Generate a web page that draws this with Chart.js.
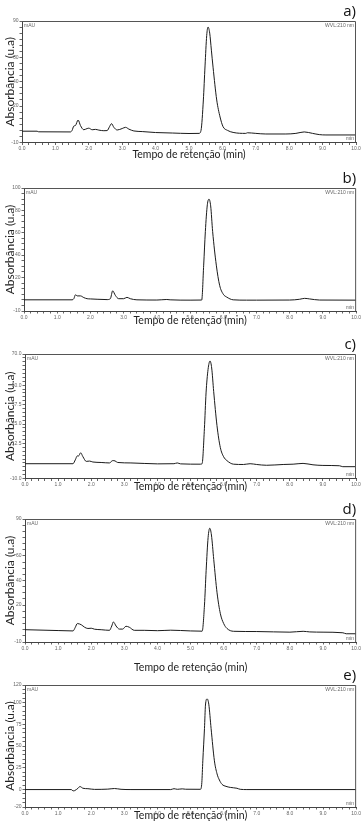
<!DOCTYPE html>
<html>
<head>
<meta charset="utf-8">
<script src="https://cdn.jsdelivr.net/npm/chart.js@4.4.1/dist/chart.umd.min.js"></script>
<style>
  body { margin: 0; background: #fff; }
  #wrap { position: relative; width: 362px; height: 828px; overflow: hidden; }
  #wrap canvas { position: absolute; left: 0; }
</style>
</head>
<body>
<div id="wrap"></div>
<script>
"use strict";

// ========== DATA ========== //
const xMajor = [0, 1, 2, 3, 4, 5, 6, 7, 8, 9, 10];

// a)
const timeA = [0, 0.45, 0.5, 1.45, 1.5, 1.55, 1.6, 1.68, 1.75, 1.85, 1.95, 2.0, 2.1, 2.2, 2.3, 2.45, 2.55, 2.62, 2.68, 2.75, 2.85, 3.0, 3.1, 3.2, 3.35, 3.6, 4.0, 4.5, 5.0, 5.3, 5.36, 5.43, 5.48, 5.53, 5.57, 5.62, 5.67, 5.72, 5.83, 5.93, 6.02, 6.15, 6.32, 6.7, 6.75, 7.0, 7.3, 7.9, 8.2, 8.45, 8.7, 8.9, 9.1, 10.0];
const absA  = [-0.7, -0.7, -1.2, -1.3, 0, 3.5, 4, 8.5, 4, 0.5, 1.5, 1.8, 0.5, 0.8, 0.2, -0.3, -0.2, 3, 5.5, 2.5, 0.3, 1.5, 2.5, 1, -0.5, -1, -1.8, -2.2, -2.6, -2.5, 0, 25, 53, 78, 85, 80, 66, 52, 25, 11, 3, 0, -1.7, -2.5, -2, -2.5, -3, -3, -2.5, -1.3, -2.5, -3.5, -3.8, -3.8];
const yLabelsA = [-10, 20, 40, 60, 90];

// b)
const timeB = [0, 1.45, 1.5, 1.55, 1.6, 1.7, 1.8, 1.9, 2.0, 2.2, 2.5, 2.6, 2.67, 2.75, 2.85, 3.0, 3.1, 3.2, 3.4, 4.0, 4.3, 4.4, 5.0, 5.35, 5.41, 5.46, 5.52, 5.57, 5.62, 5.68, 5.79, 5.89, 6.0, 6.1, 6.3, 6.7, 7.0, 8.0, 8.3, 8.45, 8.6, 8.9, 10.0];
const absB  = [0, 0, 1, 4.5, 3.5, 3.5, 2, 1, 0.8, 0.5, 0.2, 1, 8, 4, 1, 1, 2.2, 1, 0, -0.2, 0.3, 0, -0.3, -0.2, 31, 61, 85, 90, 84, 61, 31, 13, 5, 2.5, 0, -0.3, -0.3, -0.2, 0.5, 1.3, 0.8, -0.2, -0.3];
const yLabelsB = [-10, 20, 40, 60, 80, 100];

// c)
const timeC = [0, 1.45, 1.52, 1.58, 1.62, 1.68, 1.75, 1.85, 1.95, 2.05, 2.3, 2.55, 2.65, 2.72, 2.8, 3.2, 4.0, 4.5, 4.6, 4.7, 5.3, 5.35, 5.42, 5.47, 5.53, 5.59, 5.64, 5.7, 5.8, 5.9, 6.0, 6.1, 6.3, 6.6, 6.8, 7.0, 7.3, 7.8, 8.1, 8.4, 8.7, 9.0, 9.5, 9.6, 10.0];
const absC  = [-0.5, -0.5, 2, 4.5, 4.5, 6.5, 4, 1, 1.2, 0.6, 0.3, 0, 1.5, 1.3, 0.3, 0, -0.6, -0.5, 0, -0.6, -0.8, -0.5, 22, 45, 60, 65.5, 61, 46, 24, 10, 4, 1.5, -0.8, -1, -0.5, -1, -1.5, -1, -0.8, -0.3, -1.2, -1.6, -1.8, -2.4, -2.4];
const yLabelsC = [-10, 12.5, 25, 37.5, 50, 70];

// d)
const timeD = [0, 1.0, 1.45, 1.52, 1.58, 1.7, 1.8, 1.9, 2.0, 2.1, 2.3, 2.55, 2.62, 2.67, 2.75, 2.85, 2.95, 3.05, 3.15, 3.3, 3.6, 4.0, 4.4, 5.0, 5.35, 5.42, 5.47, 5.53, 5.58, 5.63, 5.7, 5.8, 5.9, 6.0, 6.1, 6.3, 7.0, 8.0, 8.4, 8.6, 9.0, 9.6, 9.7, 10.0];
const absD  = [0, -0.7, -1, 2, 5, 4, 2, 1, 1.2, 0.4, 0, -0.5, 3, 6.3, 3, 0.5, 0.5, 2.8, 2, -0.5, -0.5, -0.8, -0.4, -1, -1.2, 20, 48, 75, 82.5, 77, 57, 30, 13, 5, 1, -1.3, -1.5, -2, -1.3, -1.8, -2, -2.5, -3.3, -3.3];
const yLabelsD = [-10, 20, 40, 60, 90];

// e)
const timeE = [0, 1.4, 1.45, 1.5, 1.6, 1.66, 1.75, 1.9, 2.1, 2.5, 2.7, 2.9, 3.2, 4.4, 4.5, 4.6, 4.75, 4.85, 5.3, 5.34, 5.37, 5.42, 5.45, 5.5, 5.55, 5.62, 5.72, 5.8, 5.87, 5.95, 6.07, 6.2, 6.4, 6.5, 6.7, 10.0];
const absE  = [0, 0, -1.5, -1.2, 1.5, 3.5, 1.5, 1, 0.2, 0.5, 1.2, 0.3, 0, 0, 1, 0.3, 0.8, 0.4, 0.3, 8, 33, 70, 97, 104, 98, 70, 33, 18, 11, 6, 3.7, 2.5, 1.5, 0.3, 0, 0];
const yLabelsE = [-20, 0, 25, 50, 75, 100, 120];

// ========== PANELS ========== //
const _panels = [
  { letter: 'a', time: timeA, abs: absA, yLabels: yLabelsA, yMin: -10, yMax: 90,  yStep: 5,   dec: 0 },
  { letter: 'b', time: timeB, abs: absB, yLabels: yLabelsB, yMin: -10, yMax: 100, yStep: 5,   dec: 0 },
  { letter: 'c', time: timeC, abs: absC, yLabels: yLabelsC, yMin: -10, yMax: 70,  yStep: 2.5, dec: 1 },
  { letter: 'd', time: timeD, abs: absD, yLabels: yLabelsD, yMin: -10, yMax: 90,  yStep: 5,   dec: 0 },
  { letter: 'e', time: timeE, abs: absE, yLabels: yLabelsE, yMin: -20, yMax: 120, yStep: 5,   dec: 0 }
];
// page positions of each plot box (px)
const _boxes = [
  { top: 21,  bottom: 142.5, left: 22, right: 356, xTitle: 155 },
  { top: 188, bottom: 311,   left: 24, right: 357, xTitle: 321 },
  { top: 354, bottom: 478.5, left: 25, right: 356, xTitle: 486.5 },
  { top: 519, bottom: 642,   left: 25, right: 357, xTitle: 668 },
  { top: 685, bottom: 807,   left: 25, right: 357, xTitle: 816 }
];

Chart.defaults.font.family = "Lato, 'Open Sans', sans-serif";
Chart.defaults.color = '#333';

const X_TITLE_FONT = 10.5;
const Y_TITLE_FONT = 12;
const TICK_FONT = { family: "'Liberation Sans', Arial, sans-serif", size: 5 };

// frame, inner labels and panel letter
const framePlugin = {
  id: 'frame',
  afterDraw(chart, args, opts) {
    const { ctx, chartArea: a } = chart;
    ctx.save();
    ctx.strokeStyle = '#555';
    ctx.lineWidth = 1;
    ctx.beginPath();
    ctx.moveTo(a.left, a.top + 0.5);
    ctx.lineTo(a.right - 0.5, a.top + 0.5);
    ctx.lineTo(a.right - 0.5, a.bottom);
    ctx.stroke();

    ctx.font = "5px 'Liberation Sans', Arial";
    ctx.fillStyle = '#666';
    ctx.textBaseline = 'top';
    ctx.textAlign = 'left';
    ctx.fillText('mAU', a.left + 2, a.top + 2);
    ctx.textAlign = 'right';
    ctx.fillText('WVL:210 nm', a.right - 2, a.top + 2);
    ctx.textBaseline = 'bottom';
    ctx.fillText('min', a.right - 2, a.bottom - 1);

    ctx.font = "15px 'Open Sans'";
    ctx.fillStyle = '#111';
    ctx.textBaseline = 'middle';
    ctx.textAlign = 'right';
    ctx.fillText(opts.letter + ')', a.right, a.top - 9);
    ctx.restore();
  }
};

const wrap = document.getElementById('wrap');

_panels.forEach((p, i) => {
  const box = _boxes[i];
  const canvasTop = box.top - 21;
  const height = Math.ceil(box.bottom - canvasTop + 32);
  const canvas = document.createElement('canvas');
  canvas.width = 362;
  canvas.height = height;
  canvas.style.top = canvasTop + 'px';
  wrap.appendChild(canvas);

  const xLineH = X_TITLE_FONT * 1.2;
  const yLineH = Y_TITLE_FONT * 1.2;
  const xTitlePad = height - (box.xTitle - canvasTop) - xLineH / 2;

  new Chart(canvas, {
    type: 'line',
    data: {
      datasets: [{
        data: p.time.map((t, k) => ({ x: t, y: p.abs[k] })),
        borderColor: '#1b1b1b',
        borderWidth: 1,
        pointRadius: 0,
        fill: false,
        cubicInterpolationMode: 'monotone'
      }]
    },
    options: {
      responsive: false,
      animation: false,
      devicePixelRatio: 1,
      layout: { padding: { top: 21, right: 362 - box.right, left: 0, bottom: 0 } },
      plugins: {
        legend: { display: false },
        tooltip: { enabled: false },
        frame: { letter: p.letter }
      },
      scales: {
        x: {
          type: 'linear',
          min: 0,
          max: 10,
          afterBuildTicks: scale => {
            const ticks = [];
            for (let k = 0; k <= 50; k++) ticks.push({ value: k / 5 });
            scale.ticks = ticks;
          },
          afterFit: scale => { scale.height = height - 21 - (box.bottom - box.top); },
          ticks: {
            autoSkip: false,
            maxRotation: 0,
            padding: 1,
            font: TICK_FONT,
            color: '#666',
            callback: v => xMajor.some(m => Math.abs(m - v) < 1e-6) ? v.toFixed(1) : ''
          },
          grid: { drawOnChartArea: false, tickLength: 2.5, color: '#666' },
          border: { color: '#444', width: 1 },
          title: {
            display: true,
            text: 'Tempo de retenção (min)',
            font: { size: X_TITLE_FONT },
            color: '#222',
            padding: { top: 0, bottom: xTitlePad }
          }
        },
        y: {
          min: p.yMin,
          max: p.yMax,
          afterBuildTicks: scale => {
            const ticks = [];
            for (let v = p.yMin; v <= p.yMax + 1e-6; v += p.yStep) ticks.push({ value: v });
            scale.ticks = ticks;
          },
          afterFit: scale => { scale.width = box.left; },
          ticks: {
            autoSkip: false,
            padding: 1,
            font: TICK_FONT,
            color: '#666',
            callback: v => p.yLabels.some(m => Math.abs(m - v) < 1e-6) ? v.toFixed(p.dec) : ''
          },
          grid: { drawOnChartArea: false, tickLength: 2.5, color: '#666' },
          border: { color: '#444', width: 1 },
          title: {
            display: true,
            text: 'Absorbância (u.a)',
            font: { size: Y_TITLE_FONT },
            color: '#222',
            padding: { top: 10 - yLineH / 2, bottom: 0 }
          }
        }
      }
    },
    plugins: [framePlugin]
  });
});
</script>
</body>
</html>
